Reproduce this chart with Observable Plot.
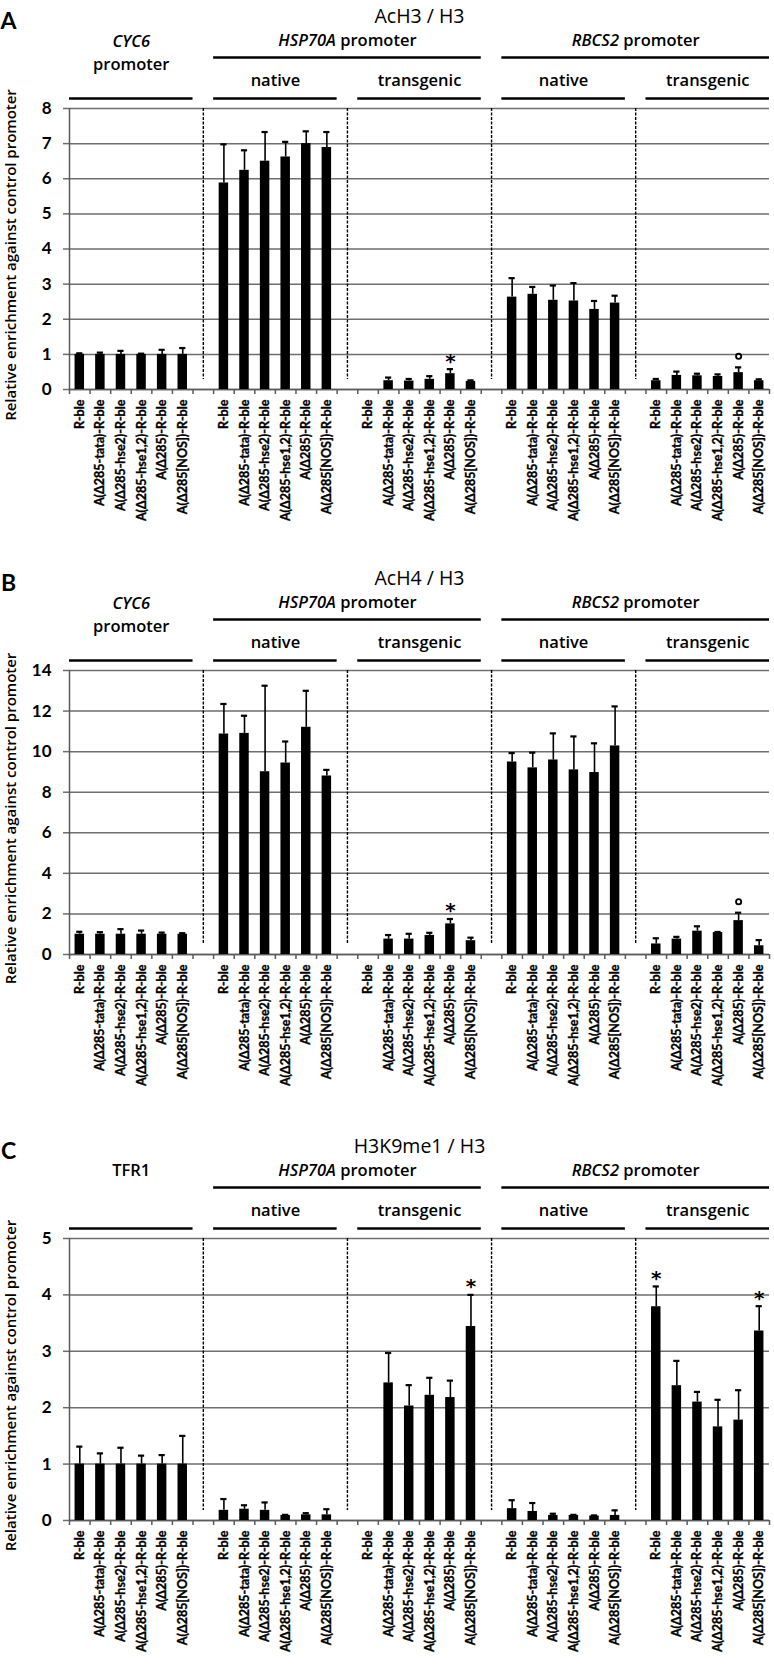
<!DOCTYPE html>
<html><head><meta charset="utf-8">
<script src="https://cdn.jsdelivr.net/npm/d3@7"></script>
<script src="https://cdn.jsdelivr.net/npm/@observablehq/plot@0.6"></script>
<style>
body{margin:0;background:#fff;}
#chart{width:774px;}
#chart svg{display:block;}
</style></head><body><div id="chart"></div>
<script>
// ---------- data ----------
const strains = ["R-ble","A(Δ285-tata)-R-ble","A(Δ285-hse2)-R-ble","A(Δ285-hse1,2)-R-ble","A(Δ285)-R-ble","A(Δ285[NOS])-R-ble"];
const subGroups = ["native","transgenic","native","transgenic"]; // groups 1..4
const yLabel = "Relative enrichment against control promoter";

// Panel A : AcH3 / H3  (groups: CYC6, HSP70A native, HSP70A transgenic, RBCS2 native, RBCS2 transgenic)
const acH3Values = [
  [1.0,1.0,1.0,1.0,1.0,1.0],
  [5.88,6.24,6.50,6.62,7.00,6.89],
  [null,0.25,0.24,0.29,0.45,0.23],
  [2.63,2.71,2.54,2.52,2.28,2.46],
  [0.25,0.40,0.39,0.37,0.48,0.25]
];
const acH3Errors = [
  [0.03,0.05,0.10,0.02,0.13,0.18],
  [1.10,0.57,0.83,0.43,0.35,0.44],
  [null,0.09,0.06,0.09,0.13,0.03],
  [0.54,0.21,0.42,0.51,0.24,0.21],
  [0.05,0.11,0.06,0.06,0.15,0.04]
];
const acH3Marks = [
  ["","","","","",""],["","","","","",""],
  ["","","","","*",""],["","","","","",""],
  ["","","","","°",""]
];

// Panel B : AcH4 / H3
const acH4Values = [
  [1.0,1.0,1.0,1.0,1.0,1.0],
  [10.87,10.90,9.01,9.44,11.20,8.80],
  [null,0.76,0.76,0.94,1.51,0.68],
  [9.49,9.20,9.59,9.10,8.97,10.28],
  [0.52,0.76,1.15,1.08,1.67,0.43]
];
const acH4Errors = [
  [0.12,0.10,0.25,0.18,0.08,0.05],
  [1.48,0.87,4.24,1.06,1.80,0.30],
  [null,0.20,0.26,0.13,0.24,0.15],
  [0.44,0.75,1.31,1.65,1.44,1.95],
  [0.28,0.11,0.24,0.03,0.39,0.28]
];
const acH4Marks = acH3Marks;

// Panel C : H3K9me1 / H3  (first group: TFR1)
const h3k9Values = [
  [1.0,1.0,1.0,1.0,1.0,1.0],
  [0.18,0.20,0.18,0.09,0.10,0.10],
  [null,2.44,2.03,2.22,2.18,3.44],
  [0.21,0.16,0.09,0.09,0.08,0.09],
  [3.79,2.39,2.10,1.66,1.78,3.36]
];
const h3k9Errors = [
  [0.31,0.19,0.29,0.15,0.16,0.50],
  [0.20,0.07,0.14,0.01,0.03,0.10],
  [null,0.53,0.37,0.31,0.30,0.56],
  [0.15,0.15,0.03,0.01,0.01,0.09],
  [0.36,0.44,0.18,0.48,0.53,0.44]
];
const h3k9Marks = [
  ["","","","","",""],["","","","","",""],
  ["","","","","","*"],["","","","","",""],
  ["*","","","","","*"]
];

const panelDefs = [
  {letter:"A", title:"AcH3 / H3", first:"CYC6\npromoter", values:acH3Values, errors:acH3Errors, marks:acH3Marks, ymax:8, ticks:d3.range(0,9,1), height:562, plotH:281},
  {letter:"B", title:"AcH4 / H3", first:"CYC6\npromoter", values:acH4Values, errors:acH4Errors, marks:acH4Marks, ymax:14, ticks:d3.range(0,15,2), height:568, plotH:284},
  {letter:"C", title:"H3K9me1 / H3", first:"TFR1", values:h3k9Values, errors:h3k9Errors, marks:h3k9Marks, ymax:5, ticks:d3.range(0,6,1), height:537, plotH:282}
];

// ---------- drawing ----------
const SLOT = 7; // 6 bars + 1 gap per group
const NSLOTS = 34;
const FONT = "Lato, 'Open Sans', 'DejaVu Sans', sans-serif";
const HFONT = "'Open Sans', Lato, sans-serif";

function makePanel(p) {
  const rows = [];
  p.values.forEach((vals, g) => vals.forEach((v, s) => {
    if (v != null) rows.push({slot: g*SLOT + s, value: v, top: v + p.errors[g][s], sig: p.marks[g][s]});
  }));
  const labelTicks = [];
  const labelMap = new Map();
  for (let g = 0; g < 5; g++) for (let s = 0; s < 6; s++) {
    const c = g*SLOT + s + 0.5; labelTicks.push(c); labelMap.set(c, strains[s]);
  }
  const separators = [1,2,3,4].map(g => g*SLOT - 0.5);
  const subs = subGroups.map((label, i) => ({label, g: i + 1}));
  const subLines = [{g:0}, ...subs];
  const tops = [
    {label: "HSP70A promoter", from: 1, to: 2},
    {label: "RBCS2 promoter", from: 3, to: 4}
  ];
  const ymax = p.ymax;
  const asterisks = rows.filter(d => d.sig === "*");
  const circles = rows.filter(d => d.sig === "°");
  const gx1 = g => g*SLOT, gx2 = g => g*SLOT + 6;
  const hdr = {fontFamily: HFONT, fontSize: 16.5, fontWeight: 600};

  const svg = Plot.plot({
    width: 774, height: p.height,
    marginTop: 108, marginLeft: 69, marginRight: 5,
    marginBottom: p.height - 108 - p.plotH,
    x: {domain: [0, NSLOTS], axis: null},
    y: {domain: [0, ymax], axis: null},
    style: {fontFamily: FONT, background: "#fff", color: "black", overflow: "visible"},
    marks: [
      Plot.gridY(p.ticks, {stroke: "#6e6e6e", strokeOpacity: 1, strokeWidth: 1.5}),
      Plot.axisY(p.ticks, {tickSize: 6, tickPadding: 12, fontSize: 17, fontWeight: "bold",
        tickFormat: d3.format("d"), stroke: "#6e6e6e", strokeWidth: 1.5, label: null}),
      Plot.ruleX([0], {stroke: "#5a5a5a", strokeWidth: 1.5}),
      Plot.axisX(d3.range(NSLOTS + 1), {tickSize: 5, tickFormat: () => "", stroke: "#5a5a5a", strokeWidth: 1.5, label: null}),
      Plot.axisX(labelTicks, {tickSize: 0, tickPadding: 10, tickRotate: -90, tickFormat: d => labelMap.get(d),
        fontSize: 12.5, fontWeight: "bold", label: null, className: "xlab"}),
      Plot.ruleY([0], {stroke: "#5a5a5a", strokeWidth: 1.5}),
      Plot.ruleX(separators, {y1: ymax, y2: 0, insetBottom: 10, stroke: "black", strokeWidth: 1.4, strokeDasharray: "3,1.5"}),
      Plot.rectY(rows, {x1: d => d.slot + 0.27, x2: d => d.slot + 0.73, y: "value", fill: "black"}),
      Plot.ruleX(rows, {x: d => d.slot + 0.5, y1: "value", y2: "top", stroke: "black", strokeWidth: 1.6}),
      Plot.ruleY(rows, {y: "top", x1: d => d.slot + 0.35, x2: d => d.slot + 0.65, stroke: "black", strokeWidth: 2.2}),
      Plot.text(asterisks, {x: d => d.slot + 0.5, y: "top", text: () => "*", fontSize: 20, fontWeight: "bold",
        fontFamily: "'DejaVu Sans', sans-serif", lineAnchor: "middle", dy: -8}),
      Plot.dot(circles, {x: d => d.slot + 0.5, y: "top", r: 2.6, fill: "white", stroke: "black", strokeWidth: 1.8, dy: -11}),
      // headers
      Plot.text([p.letter], {frameAnchor: "top-left", dx: -61, dy: -96, fontSize: 23, fontWeight: "bold", textAnchor: "middle"}),
      Plot.text([p.title], {frameAnchor: "top", dy: -99, fontSize: 19.5, fontFamily: HFONT}),
      Plot.text([p.first], {x: () => 3, y: () => ymax, dy: p.first.includes("\n") ? -57 : -70, ...hdr, lineHeight: 1.38, className: "hdr"}),
      Plot.text(tops, {x: d => (gx1(d.from) + gx2(d.to)) / 2, y: () => ymax, dy: -68, text: "label", ...hdr, className: "hdr"}),
      Plot.ruleY(tops, {x1: d => gx1(d.from), x2: d => gx2(d.to), y: () => ymax, dy: -51, stroke: "black", strokeWidth: 2.4}),
      Plot.text(subs, {x: d => gx1(d.g) + 3, y: () => ymax, dy: -28, text: "label", ...hdr}),
      Plot.ruleY(subLines, {x1: d => gx1(d.g), x2: d => gx2(d.g), y: () => ymax, dy: -10, stroke: "black", strokeWidth: 2.4}),
      Plot.text([yLabel], {frameAnchor: "left", textAnchor: "middle", dx: -58, dy: 6, rotate: -90, fontSize: 15, fontWeight: 600, fontFamily: HFONT})
    ]
  });
  // italicise gene names in headers
  const NS = "http://www.w3.org/2000/svg";
  svg.querySelectorAll("g.hdr text, g.hdr tspan").forEach(el => {
    if (el.childNodes.length === 1 && el.firstChild.nodeType === 3) {
      const m = el.textContent.match(/^(CYC6|HSP70A|RBCS2)(.*)$/);
      if (m) {
        el.textContent = "";
        const it = document.createElementNS(NS, "tspan");
        it.setAttribute("font-style", "italic");
        it.textContent = m[1];
        el.appendChild(it);
        if (m[2]) el.appendChild(document.createTextNode(m[2]));
      }
    }
  });
  // embolden the rotated strain labels slightly
  svg.querySelectorAll("g.xlab text").forEach(el => {
    el.setAttribute("stroke", "black");
    el.setAttribute("stroke-width", "0.35");
  });
  return svg;
}

const root = document.getElementById("chart");
panelDefs.forEach(p => root.appendChild(makePanel(p)));
</script>
</body></html>
